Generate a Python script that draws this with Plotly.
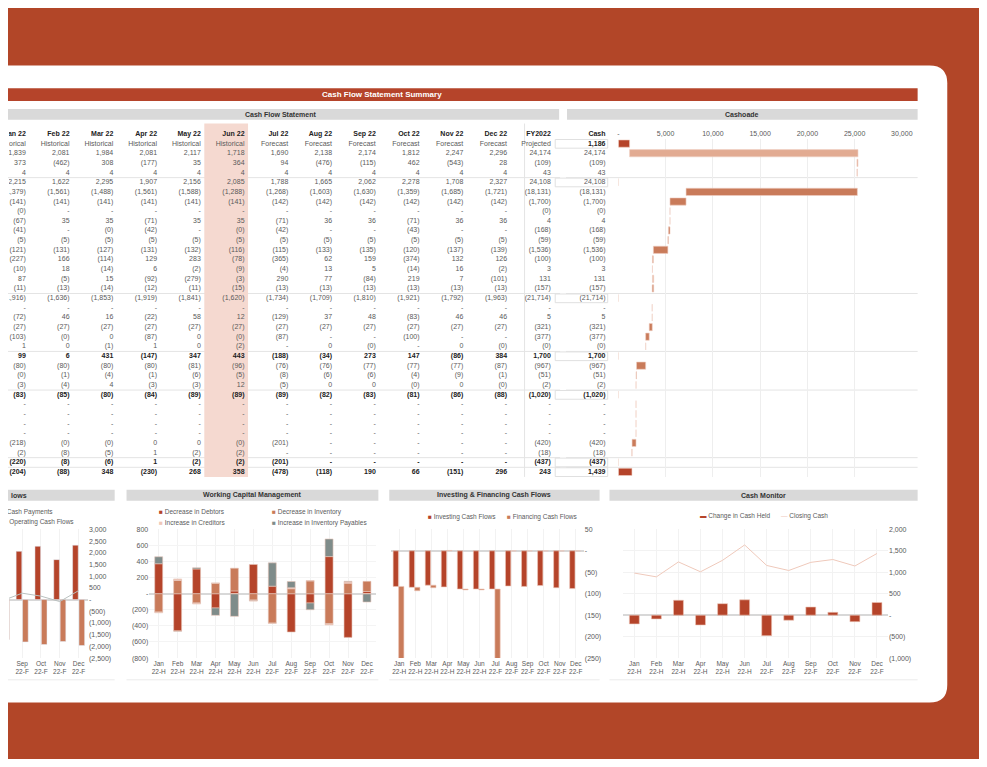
import plotly.graph_objs as go

W, H = 987, 767
OFF = 8  # page body margin

months = ["Jan", "Feb", "Mar", "Apr", "May", "Jun", "Jul", "Aug", "Sep", "Oct", "Nov", "Dec"]
period_type = ["H"] * 6 + ["F"] * 6
col_heads = [m + " 22" for m in months] + ["FY2022"]
col_sub = ["Historical"] * 6 + ["Forecast"] * 6 + ["Projected"]

# cash flow statement rows, Jan..Dec, FY2022 (as printed)
r01 = "1,839 2,081 1,984 2,081 2,117 1,718 1,690 2,138 2,174 1,812 2,247 2,296 24,174"
r02 = "373 (462) 308 (177) 35 364 94 (476) (115) 462 (543) 28 (109)"
r03 = "4 4 4 4 4 4 4 4 4 4 4 4 43"
r04 = "2,215 1,622 2,295 1,907 2,156 2,085 1,788 1,665 2,062 2,278 1,708 2,327 24,108"
r05 = "(1,379) (1,561) (1,488) (1,561) (1,588) (1,288) (1,268) (1,603) (1,630) (1,359) (1,685) (1,721) (18,131)"
r06 = "(141) (141) (141) (141) (141) (141) (142) (142) (142) (142) (142) (142) (1,700)"
r07 = "(0) - - - - - - - - - - - (0)"
r08 = "(67) 35 35 (71) 35 35 (71) 36 36 (71) 36 36 4"
r09 = "(41) - (0) (42) - (0) (42) - - (43) - - (168)"
r10 = "(5) (5) (5) (5) (5) (5) (5) (5) (5) (5) (5) (5) (59)"
r11 = "(121) (131) (127) (131) (132) (116) (115) (133) (135) (120) (137) (139) (1,536)"
r12 = "(227) 166 (114) 129 283 (78) (365) 62 159 (374) 132 126 (100)"
r13 = "(10) 18 (14) 6 (2) (9) (4) 13 5 (14) 16 (2) 3"
r14 = "87 (5) 15 (92) (279) (3) 290 77 (84) 219 7 (101) 131"
r15 = "(11) (13) (14) (12) (11) (15) (13) (13) (13) (13) (13) (13) (157)"
r16 = "(1,916) (1,636) (1,853) (1,919) (1,841) (1,620) (1,734) (1,709) (1,810) (1,921) (1,792) (1,963) (21,714)"
r17 = "- - - - - - - - - - - - -"
r18 = "(72) 46 16 (22) 58 12 (129) 37 48 (83) 46 46 5"
r19 = "(27) (27) (27) (27) (27) (27) (27) (27) (27) (27) (27) (27) (321)"
r20 = "(103) (0) 0 (87) 0 (0) (87) - - (100) - - (377)"
r21 = "1 0 (1) 1 0 (2) - 0 (0) - 0 (0) (0)"
r22 = "99 6 431 (147) 347 443 (188) (34) 273 147 (86) 384 1,700"
r23 = "(80) (80) (80) (80) (81) (96) (76) (76) (77) (77) (77) (87) (967)"
r24 = "(0) (1) (4) (1) (6) (5) (8) (6) (6) (4) (9) (1) (51)"
r25 = "(3) (4) 4 (3) (3) 12 (5) 0 0 (0) 0 (0) (2)"
r26 = "(83) (85) (80) (84) (89) (89) (89) (82) (83) (81) (86) (88) (1,020)"
r27 = "- - - - - - - - - - - - -"
r28 = "- - - - - - - - - - - - -"
r29 = "- - - - - - - - - - - - -"
r30 = "- - - - - - - - - - - - -"
r31 = "(218) (0) (0) 0 0 (0) (201) - - - - - (420)"
r32 = "(2) (8) (5) 1 (2) (2) - - - - - - (18)"
r33 = "(220) (8) (6) 1 (2) (2) (201) - - - - - (437)"
r34 = "(204) (88) 348 (230) 268 358 (478) (118) 190 66 (151) 296 243"
table_rows = [r01, r02, r03, r04, r05, r06, r07, r08, r09, r10, r11, r12, r13, r14, r15, r16, r17,
              r18, r19, r20, r21, r22, r23, r24, r25, r26, r27, r28, r29, r30, r31, r32, r33, r34]
bold_rows = [22, 26, 33, 34]
line_rows = [4, 16, 22, 26, 33, 34]

cash_col = ["1,186", "24,174", "(109)", "43", "24,108", "(18,131)", "(1,700)", "(0)", "4", "(168)",
            "(59)", "(1,536)", "(100)", "3", "131", "(157)", "(21,714)", "-", "5", "(321)", "(377)",
            "(0)", "1,700", "(967)", "(51)", "(2)", "(1,020)", "-", "-", "-", "-", "(420)", "(18)",
            "(437)", "1,439"]
cash_subtotals = [4, 16, 22, 26, 33]
cash_bold = [0, 22, 26, 33, 34]

closing_cash = [982, 894, 1242, 1012, 1280, 1638, 1160, 1042, 1232, 1298, 1147, 1439]

FONT = "Liberation Sans"
GREY = "#5a5a5a"
DARK = "#b5442a"
MID = "#c97b5a"
LIGHT = "#e2ab92"
PALE = "#efc7b8"
SLATE = "#7f8c8a"
PINK = "#f5d9d0"

FW, FH = W - 2 * OFF, H - 2 * OFF


def num(s):
    s = s.strip()
    if s == "-":
        return 0.0
    neg = s.startswith("(")
    v = float(s.strip("()").replace(",", ""))
    return -v if neg else v


def fmt(v):
    if round(v) == 0:
        return "-"
    s = f"{abs(v):,.0f}"
    return f"({s})" if v < 0 else s


def px(x):
    return (x - OFF) / FW


def py(y):
    return 1 - (y - OFF) / FH


rows = [r.split() for r in table_rows]
vals = [[num(s) for s in r] for r in rows]
cats = [f"{m}<br>22-{t}" for m, t in zip(months, period_type)]

# grid for the text table: column index -> right edge, row index -> centre line
COL0, COLW = 25, 44.3
ROW0, ROWH = 151, 9.76
CASH_COL = 13.25

fig = go.Figure()

# ---- table text ----
n_rows = len(rows)
for c in range(13):
    texts = [f"<b>{col_heads[c]}</b>", col_sub[c]]
    colors = ["#222", GREY]
    for i, r in enumerate(rows):
        bold = (i + 1) in bold_rows
        texts.append(f"<b>{r[c]}</b>" if bold else r[c])
        colors.append("#222" if bold else GREY)
    fig.add_trace(go.Scatter(x=[c] * len(texts), y=list(range(-1, n_rows + 1)), mode="text",
                             text=texts, textposition="middle left",
                             textfont=dict(family=FONT, size=7, color=colors),
                             xaxis="x6", yaxis="y6", hoverinfo="skip"))

cash_texts = ["<b>Cash</b>"] + [f"<b>{v}</b>" if i in cash_bold else v for i, v in enumerate(cash_col)]
cash_colors = ["#222"] + ["#222" if i in cash_bold else GREY for i in range(len(cash_col))]
fig.add_trace(go.Scatter(x=[CASH_COL] * len(cash_texts), y=list(range(-1, len(cash_col))), mode="text",
                         text=cash_texts, textposition="middle left",
                         textfont=dict(family=FONT, size=7, color=cash_colors),
                         xaxis="x6", yaxis="y6", hoverinfo="skip"))

# ---- cash waterfall ----
wf_base, wf_len, wf_col = [], [], []
running = 0.0
for i, s in enumerate(cash_col):
    v = num(s)
    if i == 0 or i == len(cash_col) - 1:
        wf_base.append(0)
        wf_len.append(v)
        wf_col.append(DARK)
        if i == 0:
            running = v
    elif i in cash_subtotals:
        wf_base.append(0)
        wf_len.append(0)
        wf_col.append(MID)
    else:
        wf_base.append(running)
        wf_len.append(v)
        wf_col.append(LIGHT if i <= 3 or v > 0 else MID)
        running += v
fig.add_trace(go.Bar(x=wf_len, base=wf_base, y=list(range(len(cash_col))), orientation="h",
                     marker=dict(color=wf_col, line=dict(color="#f0d0c4", width=0.6)),
                     width=0.75, xaxis="x", yaxis="y"))

# ---- operating cash flows ----
fig.add_trace(go.Bar(x=cats, y=vals[3][:12], marker_color=DARK, width=0.3, offset=-0.32,
                     xaxis="x2", yaxis="y2"))
fig.add_trace(go.Bar(x=cats, y=vals[15][:12], marker_color=MID, width=0.3, offset=0.02,
                     xaxis="x2", yaxis="y2"))
fig.add_trace(go.Scatter(x=cats, y=vals[21][:12], mode="lines", line=dict(color="#b9c0bf", width=1),
                         xaxis="x2", yaxis="y2"))

# ---- working capital ----
for ri, color in [(1, DARK), (11, MID), (12, PALE), (13, SLATE)]:
    fig.add_trace(go.Bar(x=cats, y=vals[ri][:12], marker=dict(color=color, line=dict(color="#e6c4b8", width=0.6)),
                         width=0.42, xaxis="x3", yaxis="y3"))

# ---- investing & financing ----
fig.add_trace(go.Bar(x=cats, y=vals[25][:12], marker=dict(color=DARK, line=dict(color="#ecc6b8", width=0.6)),
                     width=0.33, offset=-0.38, xaxis="x4", yaxis="y4"))
fig.add_trace(go.Bar(x=cats, y=vals[32][:12], marker=dict(color=MID, line=dict(color="#ecc6b8", width=0.6)),
                     width=0.33, offset=-0.04, xaxis="x4", yaxis="y4"))

# ---- cash monitor ----
fig.add_trace(go.Bar(x=cats, y=vals[33][:12], marker=dict(color=DARK, line=dict(color="#ecc6b8", width=0.6)),
                     width=0.45, xaxis="x5", yaxis="y5"))
fig.add_trace(go.Scatter(x=cats, y=closing_cash, mode="lines", line=dict(color="#efc9bb", width=1),
                         xaxis="x5", yaxis="y5"))


def paren_ticks(lo, hi, step):
    tv = list(range(lo, hi + 1, step))
    return dict(tickvals=tv, ticktext=[fmt(v) for v in tv])


tick_font = dict(family=FONT, size=7, color=GREY)
cat_axis = dict(type="category", showgrid=True, gridcolor="#f2f2f2", tickfont=dict(family=FONT, size=6.5, color=GREY),
                showline=False, zeroline=False, ticks="", tickangle=0)
panel_h = [py(661), py(531)]

fig.update_layout(
    width=FW, height=FH, margin=dict(l=0, r=0, t=0, b=0),
    paper_bgcolor="#b24628", plot_bgcolor="rgba(0,0,0,0)",
    showlegend=False, barmode="relative",
    font=dict(family=FONT, size=7, color=GREY),
    xaxis=dict(domain=[px(625), px(912)], range=[0, 30000], side="top", anchor="y",
               tickvals=list(range(0, 30001, 5000)),
               ticktext=[fmt(v) for v in range(0, 30001, 5000)],
               showgrid=True, gridcolor="#eeeeee", zeroline=False, tickfont=tick_font, ticklen=0),
    yaxis=dict(domain=[py(478), py(136)], range=[(478 - 141) / ROWH, (136 - 141) / ROWH],
               showticklabels=False, showgrid=False, zeroline=False),
    xaxis2=dict(cat_axis, domain=[0, px(88)], range=[7.3, 11.5], anchor="y2"),
    yaxis2=dict(domain=panel_h, range=[-2500, 3000], side="right", anchor="x2", showgrid=False,
                zeroline=True, zerolinecolor="#d8d8d8", tickfont=tick_font,
                **paren_ticks(-2500, 3000, 500)),
    xaxis3=dict(cat_axis, domain=[px(150), px(380)], anchor="y3"),
    yaxis3=dict(domain=panel_h, range=[-800, 800], anchor="x3", showgrid=True, gridcolor="#f4f4f4",
                zeroline=True, zerolinecolor="#d8d8d8", tickfont=tick_font,
                **paren_ticks(-800, 800, 200)),
    xaxis4=dict(cat_axis, domain=[px(395), px(590)], anchor="y4"),
    yaxis4=dict(domain=panel_h, range=[-250, 50], side="right", anchor="x4", showgrid=False,
                zeroline=True, zerolinecolor="#d8d8d8", tickfont=tick_font,
                **paren_ticks(-250, 50, 50)),
    xaxis5=dict(cat_axis, domain=[px(630), px(898)], anchor="y5"),
    yaxis5=dict(domain=panel_h, range=[-1000, 2000], side="right", anchor="x5", showgrid=True,
                gridcolor="#f2f2f2", zeroline=True, zerolinecolor="#d8d8d8", tickfont=tick_font,
                **paren_ticks(-1000, 2000, 500)),
    # invisible grid axes for the statement text
    xaxis6=dict(domain=[0, 1], range=[(OFF - COL0) / COLW, (W - OFF - COL0) / COLW], visible=False,
                anchor="y6", fixedrange=True),
    yaxis6=dict(domain=[0, 1], range=[(H - OFF - ROW0) / ROWH + 1, (OFF - ROW0) / ROWH + 1], visible=False,
                anchor="x6", fixedrange=True),
)

shapes = []
x0, x1, y0, y1, rr = px(-10), px(958), py(62), py(706), 18
card = (f"M {x0},{y0} L {px(958 - rr)},{y0} Q {x1},{y0} {x1},{py(62 + rr)} "
        f"L {x1},{py(706 - rr)} Q {x1},{y1} {px(958 - rr)},{y1} L {x0},{y1} Z")
shapes.append(dict(type="path", path=card, xref="paper", yref="paper", fillcolor="white",
                   line=dict(width=0), layer="below"))


def rect(xa, xb, ya, yb, color, layer="below"):
    shapes.append(dict(type="rect", xref="paper", yref="paper", x0=px(xa), x1=px(xb),
                       y0=py(yb), y1=py(ya), fillcolor=color, line=dict(width=0), layer=layer))


def hline(xa, xb, y, color="#e4e4e4", w=1):
    shapes.append(dict(type="line", xref="paper", yref="paper", x0=px(xa), x1=px(xb),
                       y0=py(y), y1=py(y), line=dict(color=color, width=w), layer="below"))


rect(0, 928, 85, 98, DARK)
rect(0, 565, 106, 117, "#d9d9d9")
rect(573, 928, 106, 117, "#d9d9d9")
panels = [(0, 115, "lows"), (127, 382, "Working Capital Management"),
          (393, 606, "Investing & Financing Cash Flows"), (616, 928, "Cash Monitor")]
for a, b, _ in panels:
    rect(a, b, 491, 502, "#d9d9d9")
    hline(a, b, 683, "#ebebeb")

# June highlight column
shapes.append(dict(type="rect", xref="x6", yref="y6", x0=4.08, x1=5.08, y0=-2.1, y1=n_rows + 0.5,
                   fillcolor=PINK, line=dict(width=0), layer="below"))
for r in line_rows:
    y = ROW0 + (r - 1.5) * ROWH
    hline(0, 566, y)
    hline(572, 928, y)
shapes.append(dict(type="line", xref="x6", yref="y6", x0=11.4, x1=11.4, y0=-2.1, y1=n_rows + 0.5,
                   line=dict(color="#e4e4e4", width=1), layer="below"))
# boxes round the cash subtotals
for i in [0] + cash_subtotals + [len(cash_col) - 1]:
    shapes.append(dict(type="rect", xref="x6", yref="y6", x0=CASH_COL - 1.15, x1=CASH_COL + 0.05,
                       y0=i - 0.45, y1=i + 0.45, line=dict(color="#e0e0e0", width=1),
                       fillcolor="rgba(0,0,0,0)", layer="below"))
fig.update_layout(shapes=shapes)

ann = [
    dict(x=px(386), y=py(91.5), text="<b>Cash Flow Statement Summary</b>",
         font=dict(family=FONT, size=8, color="white")),
    dict(x=px(283), y=py(111.5), text="<b>Cash Flow Statement</b>", font=dict(family=FONT, size=7, color="#333")),
    dict(x=px(750), y=py(111.5), text="<b>Cashoade</b>", font=dict(family=FONT, size=7, color="#333")),
]
for a, b, t in panels:
    cx = (a + b) / 2 if a > 0 else 18
    ann.append(dict(x=px(cx), y=py(496.5), text=f"<b>{t}</b>",
                    font=dict(family=FONT, size=7, color="#333")))


def leg(x, y, color, label, sym="■"):
    ann.append(dict(x=px(x), y=py(y), xanchor="left", text=f"<span style='color:{color}'>{sym}</span> {label}",
                    font=dict(family=FONT, size=6.5, color=GREY)))


leg(-2, 513, MID, "Cash Payments")
leg(-2, 523, "#b9c0bf", "Operating Cash Flows", "—")
leg(158, 513, DARK, "Decrease in Debtors")
leg(272, 513, MID, "Decrease in Inventory")
leg(158, 524, PALE, "Increase in Creditors")
leg(272, 524, SLATE, "Increase in Inventory Payables")
leg(430, 518, DARK, "Investing Cash Flows")
leg(510, 518, MID, "Financing Cash Flows")
leg(706, 517, DARK, "Change in Cash Held", "▬")
leg(788, 517, "#efc9bb", "Closing Cash", "—")
for a in ann:
    a.setdefault("xref", "paper")
    a.setdefault("yref", "paper")
    a.setdefault("showarrow", False)
    a.setdefault("xanchor", "center")
    a.setdefault("yanchor", "middle")
fig.update_layout(annotations=ann)

fig.write_html("out.html")
